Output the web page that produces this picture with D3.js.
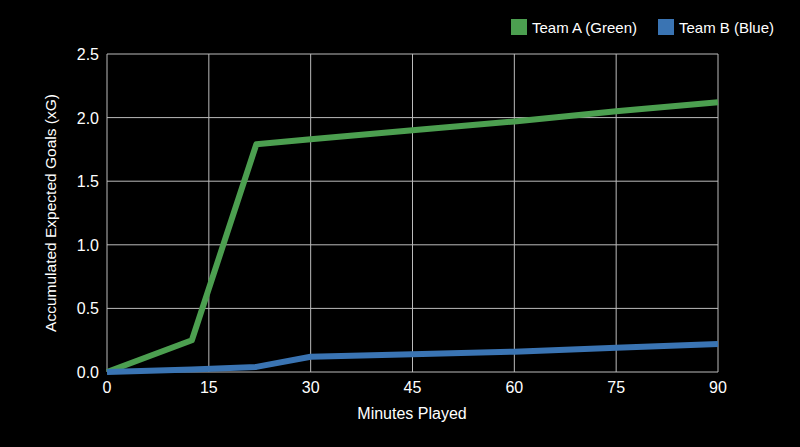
<!DOCTYPE html><html><head><script src="https://cdn.jsdelivr.net/npm/d3@7"></script>
<style>body{margin:0;background:#000}</style></head><body><svg id="c" width="800" height="447"></svg>
<script>
const minutes=[0,12.5,22,30,45,60,75,90];
const teamA=[0,0.25,1.79,1.83,1.90,1.97,2.05,2.12];
const teamB=[0,0.02,0.04,0.12,0.14,0.16,0.19,0.22];
const xTicks=[0,15,30,45,60,75,90];
const yTicks=[0,0.5,1,1.5,2,2.5];
const series=[{name:"Team A (Green)",v:teamA,c:"#4c9f50"},{name:"Team B (Blue)",v:teamB,c:"#3a74b3"}];
const svg=d3.select("#c");
svg.append("rect").attr("width",800).attr("height",447).attr("fill","#000");
const x=d3.scaleLinear().domain([0,90]).range([107,718]);
const y=d3.scaleLinear().domain([0,2.5]).range([372,54]);
const f="Helvetica, Arial, 'Liberation Sans', sans-serif";
svg.append("g").selectAll("line").data(xTicks).join("line").attr("x1",d=>x(d)).attr("x2",d=>x(d)).attr("y1",54).attr("y2",372).attr("stroke","#bbb").attr("stroke-width",1);
svg.append("g").selectAll("line").data(yTicks).join("line").attr("y1",d=>y(d)).attr("y2",d=>y(d)).attr("x1",107).attr("x2",718).attr("stroke","#bbb").attr("stroke-width",1);
svg.append("g").selectAll("text").data(xTicks).join("text").attr("x",d=>x(d)).attr("y",393).attr("text-anchor","middle").attr("fill","#fff").attr("font-family",f).attr("font-size",16).text(d=>d);
svg.append("g").selectAll("text").data(yTicks).join("text").attr("x",99).attr("y",d=>y(d)+6).attr("text-anchor","end").attr("fill","#fff").attr("font-family",f).attr("font-size",16).text(d=>d.toFixed(1));
svg.append("text").attr("x",412).attr("y",419).attr("text-anchor","middle").attr("fill","#fff").attr("font-family",f).attr("font-size",16).text("Minutes Played");
svg.append("text").attr("transform","translate(56,213) rotate(-90)").attr("text-anchor","middle").attr("fill","#fff").attr("font-family",f).attr("font-size",15.5).text("Accumulated Expected Goals (xG)");
const line=d3.line().x((d,i)=>x(minutes[i])).y(d=>y(d));
series.forEach(s=>svg.append("path").attr("d",line(s.v)).attr("fill","none").attr("stroke",s.c).attr("stroke-width",6).attr("stroke-linejoin","round"));
const lx=[511,658];
series.forEach((s,i)=>{svg.append("rect").attr("x",lx[i]).attr("y",19).attr("width",16).attr("height",16).attr("fill",s.c);
svg.append("text").attr("x",lx[i]+21).attr("y",33).attr("fill","#fff").attr("font-family",f).attr("font-size",15).text(s.name);});
</script></body></html>
